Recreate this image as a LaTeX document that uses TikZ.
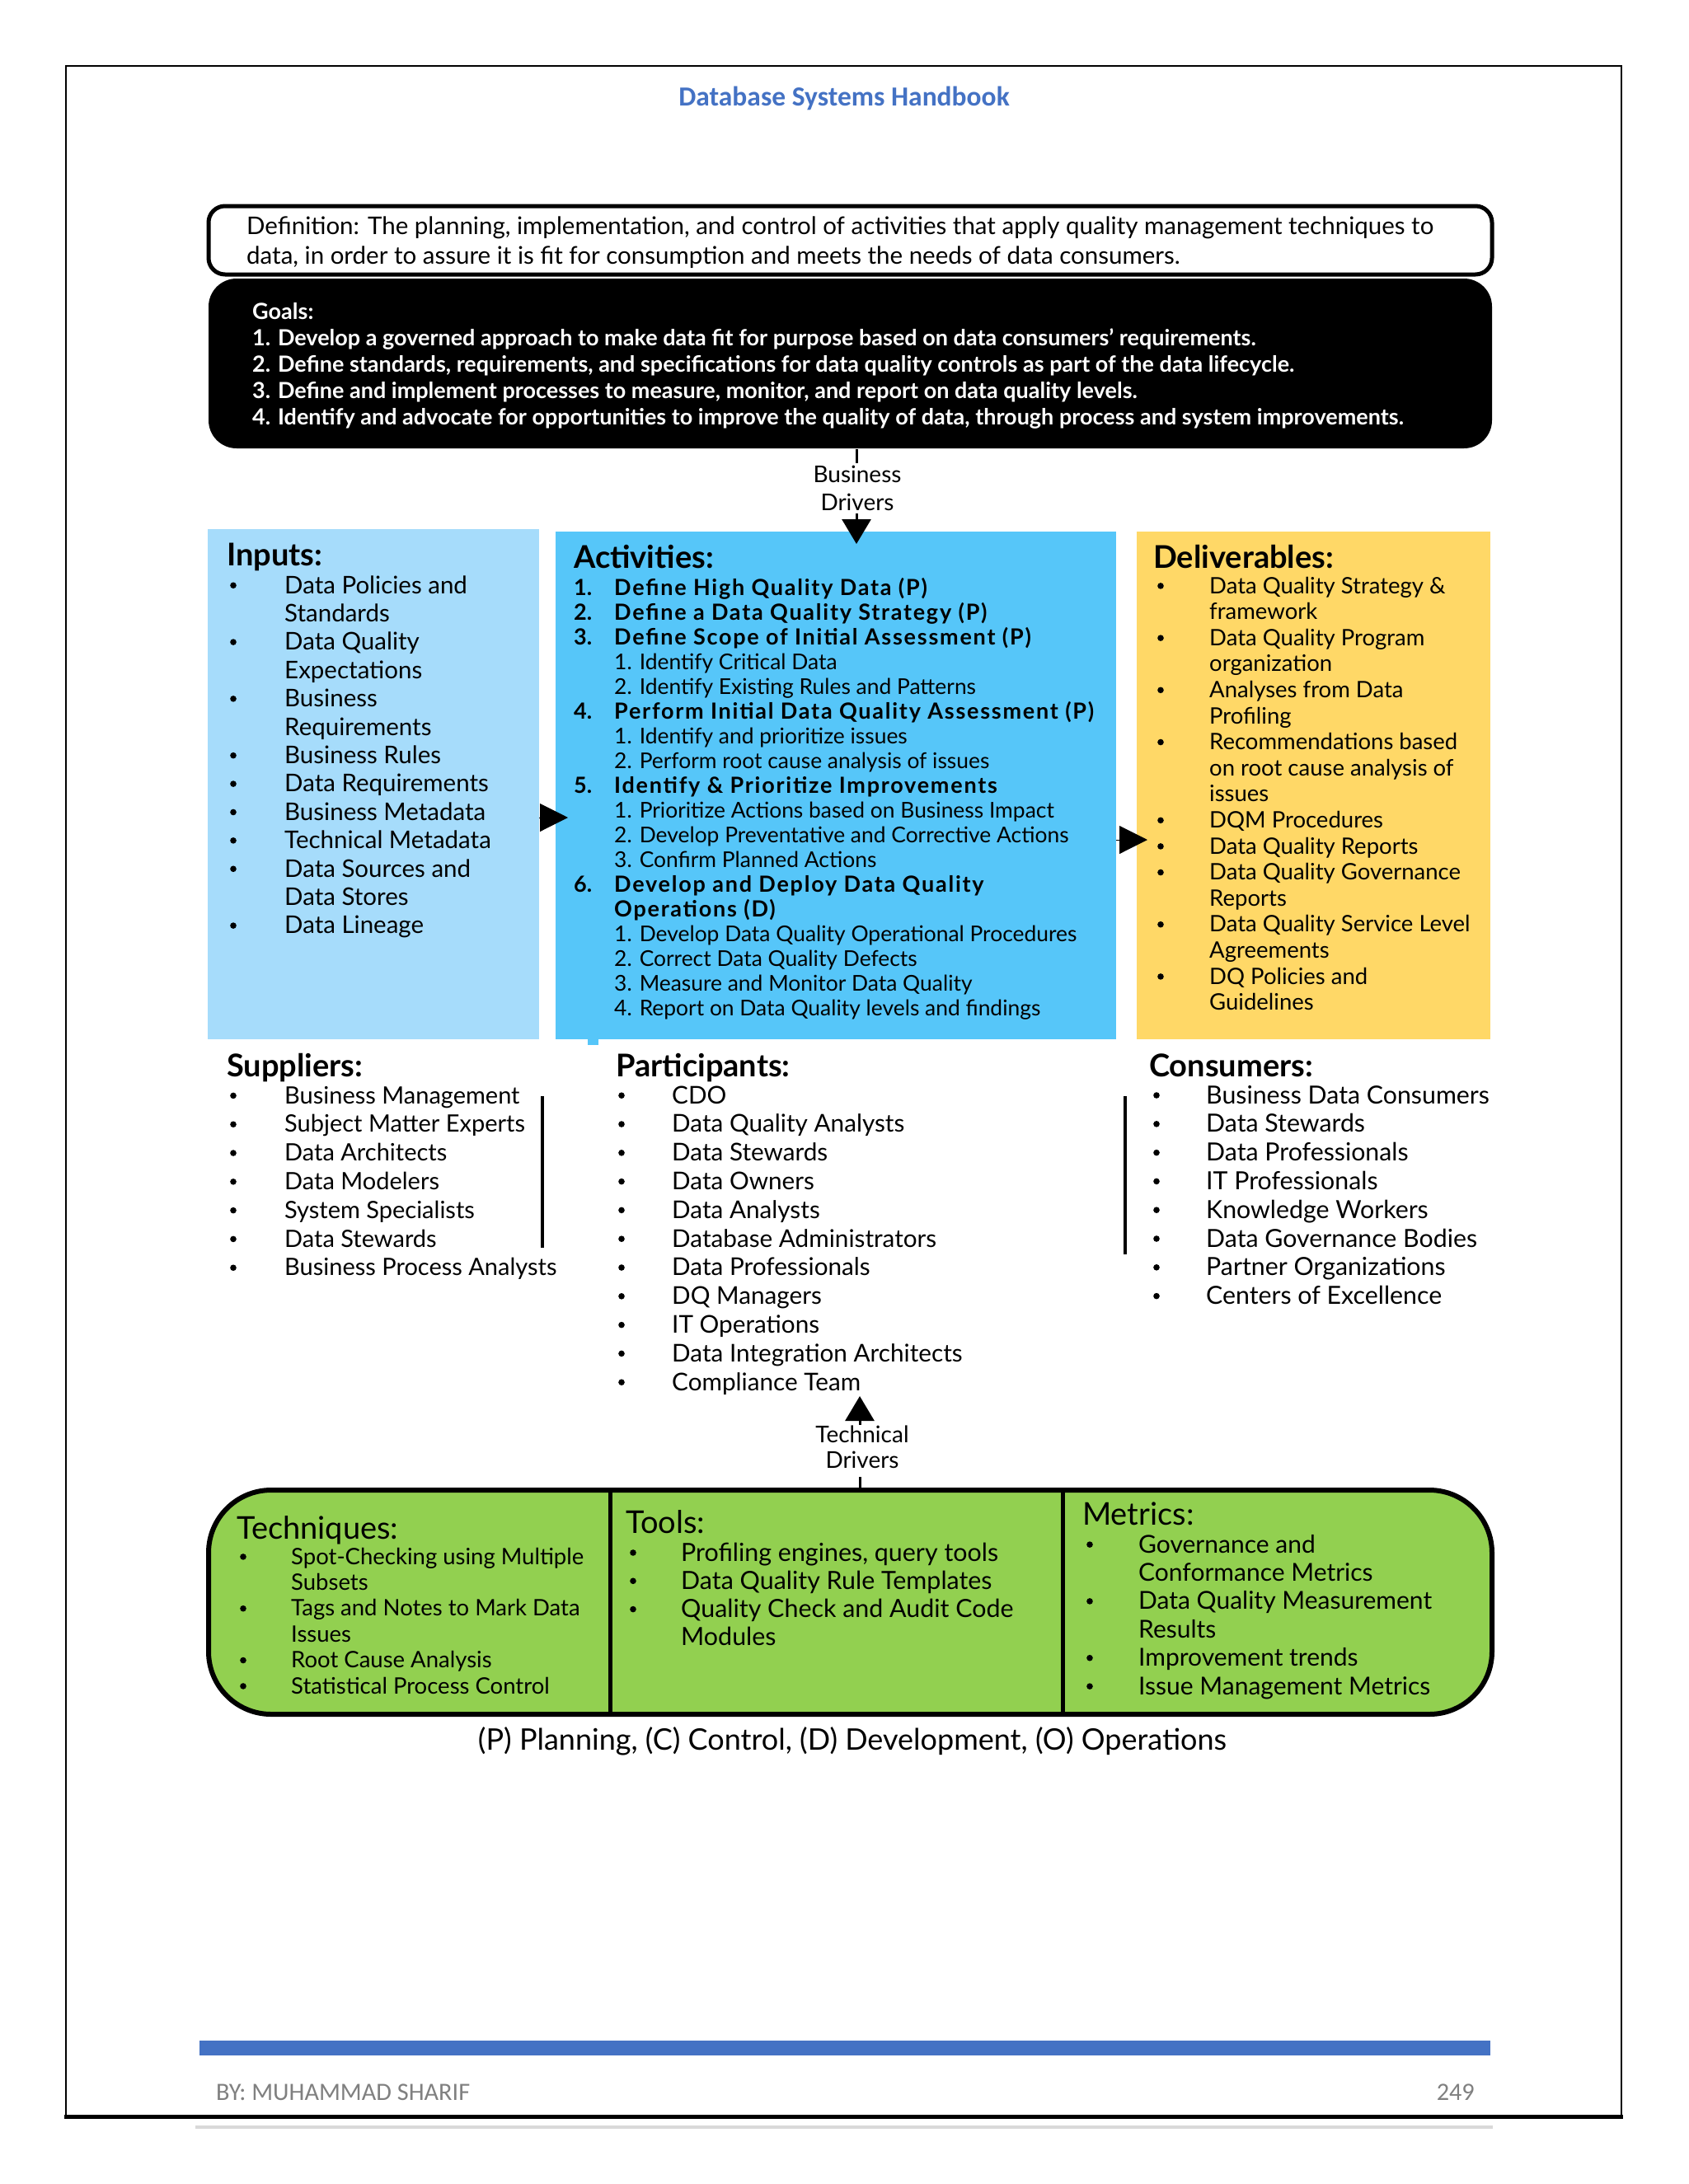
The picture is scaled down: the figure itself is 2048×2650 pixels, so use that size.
\documentclass[tikz,border=0pt]{standalone}
\usepackage{fontspec}
\setmainfont{Lato}
\newfontfamily\calibrifont{Carlito}
\usetikzlibrary{arrows.meta}
\definecolor{inblue}{RGB}{166,220,251}
\definecolor{actblue}{RGB}{86,198,249}
\definecolor{delyellow}{RGB}{255,216,103}
\definecolor{toolgreen}{RGB}{146,208,80}
\definecolor{hdrblue}{RGB}{68,114,196}
\definecolor{footgray}{RGB}{128,128,128}
\newcommand{\setfs}[1]{\fontsize{#1}{#1}\selectfont}
\newcommand{\bulletlines}[7]{%
  \foreach \b/\t [count=\i from 0] in {#7}{%
    \node[txt, font=\setfs{#6}] (#1-\i) at (#3,#4+\i*#5) {\t};
    \ifnum\b=1 \fill (#2+4,#4+\i*#5-0.33*#6) circle (3.8pt);\fi
  }}
\begin{document}
\begin{tikzpicture}[x=1pt,y=-1pt,
  txt/.style={anchor=base west, inner sep=0pt},
  ctxt/.style={anchor=base, inner sep=0pt},
  boxn/.style={anchor=north west, inner sep=0pt, outer sep=0pt},
  headb/.style={txt, font=\bfseries\setfs{38}},
  headr/.style={txt, font=\setfs{38}},
  sidetip/.style={line width=1pt, -{Triangle[width=34pt,length=34pt]}},
  drvtip/.style={line width=3pt, -{Triangle[width=35pt,length=30pt]}}]

\path[use as bounding box, fill=white] (0,0) rectangle (2048,2650);

% page frame
\draw[line width=2.5pt] (80,80) rectangle (1967,2568);
\draw[line width=5pt] (78,2568) -- (1969,2568);
\draw[line width=4pt, black!15] (237,2581) -- (1811,2581);

% title
\node[ctxt, font=\calibrifont\bfseries\setfs{33.5}, text=hdrblue] (title) at (1024,128) {Database Systems Handbook};

% definition
\node[boxn, draw, line width=5pt, rounded corners=20pt, minimum width=1557pt, minimum height=83pt] (defbox) at (253,250) {};
\node[txt, font=\setfs{29.5}] (def1) at (299,284) {Definition: The planning, implementation, and control of activities that apply quality management techniques to};
\node[txt, font=\setfs{29.5}] (def2) at (299,320) {data, in order to assure it is fit for consumption and meets the needs of data consumers.};

% goals
\node[boxn, fill=black, rounded corners=34pt, minimum width=1557pt, minimum height=206pt] (goals) at (253,338) {};
\foreach \t [count=\i from 0] in {Goals:,
  {1. Develop a governed approach to make data fit for purpose based on data consumers’ requirements.},
  {2. Define standards, requirements, and specifications for data quality controls as part of the data lifecycle.},
  {3. Define and implement processes to measure, monitor, and report on data quality levels.},
  {4. Identify and advocate for opportunities to improve the quality of data, through process and system improvements.}}
  {\node[txt, font=\bfseries\setfs{27}, text=white] (goal-\i) at (306,387+\i*32) {\t};}

% business drivers
\coordinate (bdtop) at (1039,545);
\coordinate (bdtick) at (1039,562);
\coordinate (bdtip) at (1039,660);
\draw[line width=3pt] (bdtop) -- (bdtick);
\node[ctxt, font=\setfs{28}] (bd1) at (1040,585) {Business};
\node[ctxt, font=\setfs{28}] (bd2) at (1040,619) {Drivers};

% boxes
\node[boxn, fill=inblue, minimum width=402pt, minimum height=619pt] (inputs) at (252,642) {};
\node[boxn, fill=actblue, minimum width=680pt, minimum height=616pt] (acts) at (674,645) {};
\node[boxn, fill=delyellow, minimum width=429pt, minimum height=616pt] (dels) at (1379,645) {};
\fill[actblue] (713,1258) rectangle (726,1268);

\draw[drvtip, shorten <=4pt] (bd2.south -| bdtip) -- (bdtip);

% arrows between boxes
\coordinate (iatip) at (689,992);
\coordinate (adtip) at (1392,1019);
\draw[sidetip] (inputs.east |- iatip) -- (iatip);
\draw[sidetip] (acts.east |- adtip) -- (adtip);

% inputs
\node[headb] (inph) at (275,686) {Inputs:};
\bulletlines{inp}{279}{345}{720}{34.4}{29.5}{1/Data Policies and, 0/Standards, 1/Data Quality, 0/Expectations, 1/Business, 0/Requirements, 1/Business Rules, 1/Data Requirements, 1/Business Metadata, 1/Technical Metadata, 1/Data Sources and, 0/Data Stores, 1/Data Lineage}

% activities
\node[headb] (acth) at (696,689) {Activities:};
\foreach \k/\n/\t in {0/1./Define High Quality Data (P), 1/2./Define a Data Quality Strategy (P), 2/3./Define Scope of Initial Assessment (P), 5/4./Perform Initial Data Quality Assessment (P), 8/5./Identify \& Prioritize Improvements, 12/6./Develop and Deploy Data Quality}
  {\node[txt, font=\bfseries\setfs{27}] (actn-\k) at (696,722+\k*30) {\n};
   \node[txt, font=\bfseries\setfs{27}\addfontfeature{LetterSpace=6.5}] (act-\k) at (745,722+\k*30) {\t};}
\node[txt, font=\bfseries\setfs{27}\addfontfeature{LetterSpace=6.5}] (act-13) at (745,722+13*30) {Operations (D)};
\foreach \k/\t in {3/1. Identify Critical Data, 4/2. Identify Existing Rules and Patterns, 6/1. Identify and prioritize issues, 7/2. Perform root cause analysis of issues, 9/1. Prioritize Actions based on Business Impact, 10/2. Develop Preventative and Corrective Actions, 11/3. Confirm Planned Actions, 14/1. Develop Data Quality Operational Procedures, 15/2. Correct Data Quality Defects, 16/3. Measure and Monitor Data Quality, 17/4. Report on Data Quality levels and findings}
  {\node[txt, font=\setfs{26.4}] (act-\k) at (745,722+\k*30) {\t};}

% deliverables
\node[headb] (delh) at (1399,689) {Deliverables:};
\bulletlines{del}{1404}{1467}{720}{31.6}{27.5}{1/Data Quality Strategy \&, 0/framework, 1/Data Quality Program, 0/organization, 1/Analyses from Data, 0/Profiling, 1/Recommendations based, 0/on root cause analysis of, 0/issues, 1/DQM Procedures, 1/Data Quality Reports, 1/Data Quality Governance, 0/Reports, 1/Data Quality Service Level, 0/Agreements, 1/DQ Policies and, 0/Guidelines}

% suppliers / participants / consumers
\node[headb] (suph) at (275,1306) {Suppliers:};
\bulletlines{sup}{279}{345}{1339}{34.8}{29}{1/Business Management, 1/Subject Matter Experts, 1/Data Architects, 1/Data Modelers, 1/System Specialists, 1/Data Stewards, 1/Business Process Analysts}
\node[headb] (parh) at (747,1306) {Participants:};
\bulletlines{par}{750}{815}{1339}{34.8}{29.7}{1/CDO, 1/Data Quality Analysts, 1/Data Stewards, 1/Data Owners, 1/Data Analysts, 1/Database Administrators, 1/Data Professionals, 1/DQ Managers, 1/IT Operations, 1/Data Integration Architects, 1/Compliance Team}
\node[headb] (conh) at (1394,1306) {Consumers:};
\bulletlines{con}{1399}{1463}{1339}{34.8}{30.3}{1/Business Data Consumers, 1/Data Stewards, 1/Data Professionals, 1/IT Professionals, 1/Knowledge Workers, 1/Data Governance Bodies, 1/Partner Organizations, 1/Centers of Excellence}

\coordinate (s1a) at (658,1330); \coordinate (s1b) at (658,1514);
\coordinate (s2a) at (1365,1330); \coordinate (s2b) at (1365,1522);
\draw[line width=3.5pt] (s1a) -- (s1b);
\draw[line width=3.5pt] (s2a) -- (s2b);

% technical drivers
\coordinate (tdtip) at (1043,1694);
\coordinate (tdtick) at (1043,1792);
\node[ctxt, font=\setfs{28}] (td1) at (1046,1750) {Technical};
\node[ctxt, font=\setfs{28}] (td2) at (1046,1781) {Drivers};
\draw[drvtip] (td1.north -| tdtip) -- (tdtip);

% green box
\node[boxn, fill=toolgreen, draw, line width=6pt, rounded corners=76pt, minimum width=1557pt, minimum height=272pt] (green) at (253,1808) {};
\draw[line width=3pt] (tdtick) -- (tdtick |- green.north);
\draw[line width=5pt] (740,1808) -- (740,2080);
\draw[line width=5pt] (1289,1808) -- (1289,2080);

\node[headr] (techh) at (287,1867) {Techniques:};
\bulletlines{tec}{291}{353}{1898}{31.4}{27.5}{1/Spot-Checking using Multiple, 0/Subsets, 1/Tags and Notes to Mark Data, 0/Issues, 1/Root Cause Analysis, 1/Statistical Process Control}
\node[headr] (toolh) at (759,1860) {Tools:};
\bulletlines{too}{764}{826}{1894}{34.3}{30.4}{1/{Profiling engines, query tools}, 1/Data Quality Rule Templates, 1/Quality Check and Audit Code, 0/Modules}
\node[headr] (meth) at (1313,1850) {Metrics:};
\bulletlines{met}{1318}{1381}{1884}{34.4}{30}{1/Governance and, 0/Conformance Metrics, 1/Data Quality Measurement, 0/Results, 1/Improvement trends, 1/Issue Management Metrics}

% caption
\node[ctxt, font=\setfs{36}] (caption) at (1034,2123) {(P) Planning, (C) Control, (D) Development, (O) Operations};

% footer
\fill[hdrblue] (242,2476) rectangle (1808,2494);
\node[txt, font=\calibrifont\setfs{30.3}, text=footgray] (author) at (262,2548) {BY: MUHAMMAD SHARIF};
\node[anchor=base east, inner sep=0pt, font=\calibrifont\setfs{30.3}, text=footgray] (pageno) at (1789,2548) {249};
\end{tikzpicture}
\end{document}
